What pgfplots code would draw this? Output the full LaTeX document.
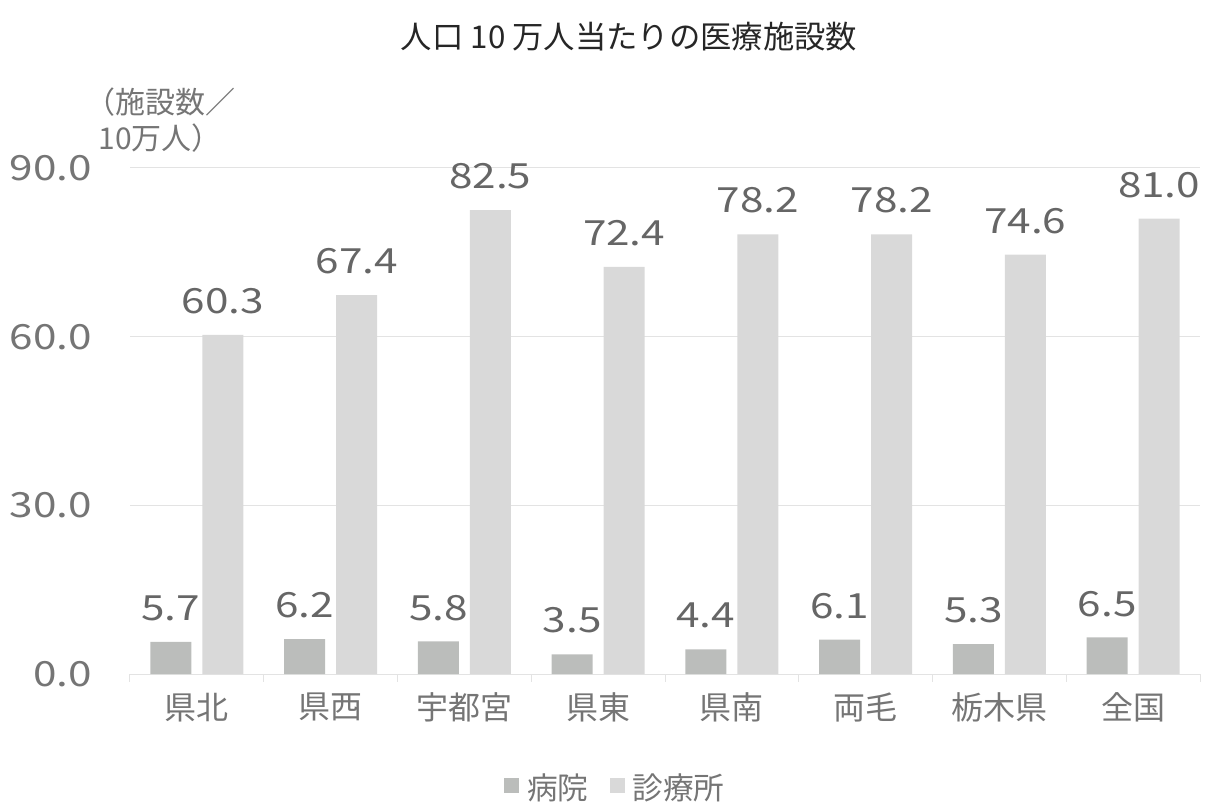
\documentclass[border=0pt]{standalone}
\usepackage{pgfplots}
\pgfplotsset{compat=1.18}
\usepackage{fontspec}
\setmainfont{Noto Sans CJK JP}
\newfontfamily\numfont{Noto Sans CJK JP}[FakeStretch=1.22]
\definecolor{hosp}{HTML}{BBBDBB}
\definecolor{clin}{HTML}{D9D9D9}
\definecolor{txt}{HTML}{757575}
\definecolor{lbl}{HTML}{666666}
\definecolor{gridc}{HTML}{E3E3E3}
\pgfplotstableread{
x hosp clin
0 5.7 60.3
1 6.2 67.4
2 5.8 82.5
3 3.5 72.4
4 4.4 78.2
5 6.1 78.2
6 5.3 74.6
7 6.5 81.0
}\datatable
\begin{document}
\begin{tikzpicture}
\path[use as bounding box] (0pt,0pt) rectangle (909pt,602.25pt);
\begin{axis}[
  at={(97.5pt,96.75pt)}, anchor=south west,
  width=802.5pt, height=379.5pt, scale only axis,
  ymin=0, ymax=90, ytick={0,30,60,90},
  xmin=-0.5, xmax=7.5, xtick={0,...,7},
  xticklabels={県北,県西,宇都宮,県東,県南,両毛,栃木県,全国},
  minor xtick={-0.5,0.5,...,7.5},
  axis x line*=bottom, axis y line*=left,
  x axis line style={draw=gridc, line width=0.75pt},
  y axis line style={draw=none},
  major tick length=0pt, minor tick length=6pt,
  tick align=outside,
  minor tick style={draw=gridc, line width=0.75pt},
  ytick style={draw=none},
  ymajorgrids, grid style={draw=gridc, line width=0.75pt},
  /pgf/number format/.cd, fixed, fixed zerofill, precision=1, assume math mode=true,
  /pgfplots/.cd,
  yticklabel style={font=\numfont\fontsize{26pt}{28pt}\selectfont, text=txt, inner sep=0pt, xshift=-28.5pt},
  xticklabel style={font=\fontsize{24pt}{26pt}\selectfont, text=txt, inner sep=0pt, yshift=-14pt},
  ybar=8.25pt, bar width=30.75pt,
  nodes near coords,
  every node near coord/.append style={font=\numfont\fontsize{26pt}{28pt}\selectfont, text=lbl, inner sep=0pt, yshift=15.5pt},
  legend style={at={(0.454,-0.225)}, anchor=center, legend columns=2, draw=none, fill=none,
    font=\fontsize{23pt}{26pt}\selectfont, text=txt,
    /tikz/every even column/.append style={column sep=14pt}},
  legend cell align=left,
]
\addplot[fill=hosp, draw=none, legend image code/.code={\fill[hosp] (0pt,-4pt) rectangle (11.25pt,7.25pt); \path (15pt,0pt);}] table[x=x,y=hosp] {\datatable};
\addlegendentry{病院}
\addplot[fill=clin, draw=none, legend image code/.code={\fill[clin] (0pt,-4pt) rectangle (11.25pt,7.25pt); \path (15pt,0pt);}] table[x=x,y=clin] {\datatable};
\addlegendentry{診療所}
\end{axis}
\node[font=\fontsize{23.5pt}{26pt}\selectfont, text=black!85] at (471.75pt,574.5pt) {人口 10 万人当たりの医療施設数};
\node[font=\fontsize{22.5pt}{27pt}\selectfont, text=txt, align=center] at (120pt,512pt) {（施設数／\\10万人）};
\end{tikzpicture}
\end{document}
